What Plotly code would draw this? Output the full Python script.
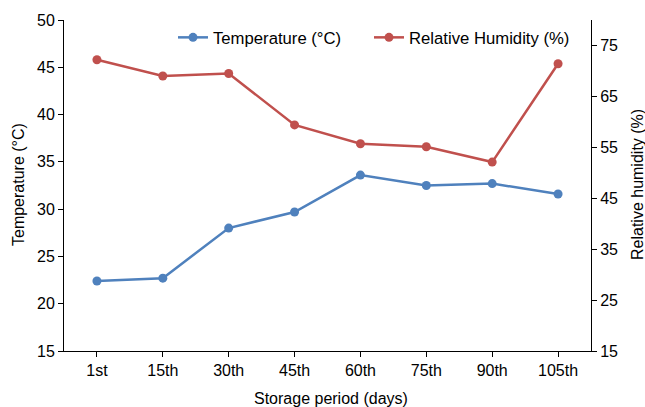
import plotly.graph_objects as go

categories = ["1st", "15th", "30th", "45th", "60th", "75th", "90th", "105th"]
temperature = [22.4, 22.7, 28.0, 29.7, 33.6, 32.5, 32.7, 31.6]
humidity = [72.2, 69.0, 69.5, 59.4, 55.7, 55.1, 52.1, 71.4]
left_ticks = [15, 20, 25, 30, 35, 40, 45, 50]
right_ticks = [15, 25, 35, 45, 55, 65, 75]

FONT = "Liberation Sans, Arial, sans-serif"
BLUE = "#4F81BD"
RED = "#C0504D"
W, H = 645, 407
ML, MR, MT, MB = 64, 54, 20, 56

fig = go.Figure()
fig.add_trace(go.Scatter(
    x=categories, y=temperature, name="Temperature (°C)",
    mode="lines+markers", line=dict(color=BLUE, width=2.5),
    marker=dict(color=BLUE, size=9), yaxis="y", legend="legend"))
fig.add_trace(go.Scatter(
    x=categories, y=humidity, name="Relative Humidity (%)",
    mode="lines+markers", line=dict(color=RED, width=2.5),
    marker=dict(color=RED, size=9), yaxis="y2", legend="legend2"))

axis_common = dict(showgrid=False, zeroline=False, showline=True,
                   linecolor="black", linewidth=1, ticks="outside",
                   ticklen=5, tickcolor="black", automargin=False,
                   tickfont=dict(family=FONT, size=16, color="black"))

pw = W - ML - MR
ph = H - MT - MB

def px_x(x):
    return (x - ML) / pw

def px_y(y):
    return (H - MB - y) / ph

legend_common = dict(orientation="h", xanchor="left", yanchor="top",
                     bgcolor="rgba(0,0,0,0)", font=dict(family=FONT, size=16.7))

fig.update_layout(
    width=W, height=H,
    margin=dict(l=ML, r=MR, t=MT, b=MB, autoexpand=False),
    paper_bgcolor="white", plot_bgcolor="white",
    font=dict(family=FONT, size=16, color="black"),
    xaxis=dict(type="category", range=[-0.5, 7.5], **axis_common),
    yaxis=dict(range=[15, 50], tickvals=left_ticks, **axis_common),
    yaxis2=dict(range=[15, 80], tickvals=right_ticks, overlaying="y", side="right",
                **axis_common),
    legend=dict(x=px_x(173), y=px_y(20), **legend_common),
    legend2=dict(x=px_x(369), y=px_y(20), **legend_common),
    showlegend=True,
    annotations=[
        dict(text="Temperature (°C)", xref="paper", yref="paper",
             x=px_x(18), y=px_y(185), textangle=-90, showarrow=False,
             xanchor="center", yanchor="middle", font=dict(size=16)),
        dict(text="Relative humidity (%)", xref="paper", yref="paper",
             x=px_x(637), y=px_y(185), textangle=-90, showarrow=False,
             xanchor="center", yanchor="middle", font=dict(size=16)),
        dict(text="Storage period (days)", xref="paper", yref="paper",
             x=px_x(331), y=px_y(398), showarrow=False,
             xanchor="center", yanchor="middle", font=dict(size=16)),
    ],
)

fig.write_html(
    "out.html",
    config={"displayModeBar": False},
    post_script="document.body.style.margin='0';document.body.style.overflow='hidden';",
)
